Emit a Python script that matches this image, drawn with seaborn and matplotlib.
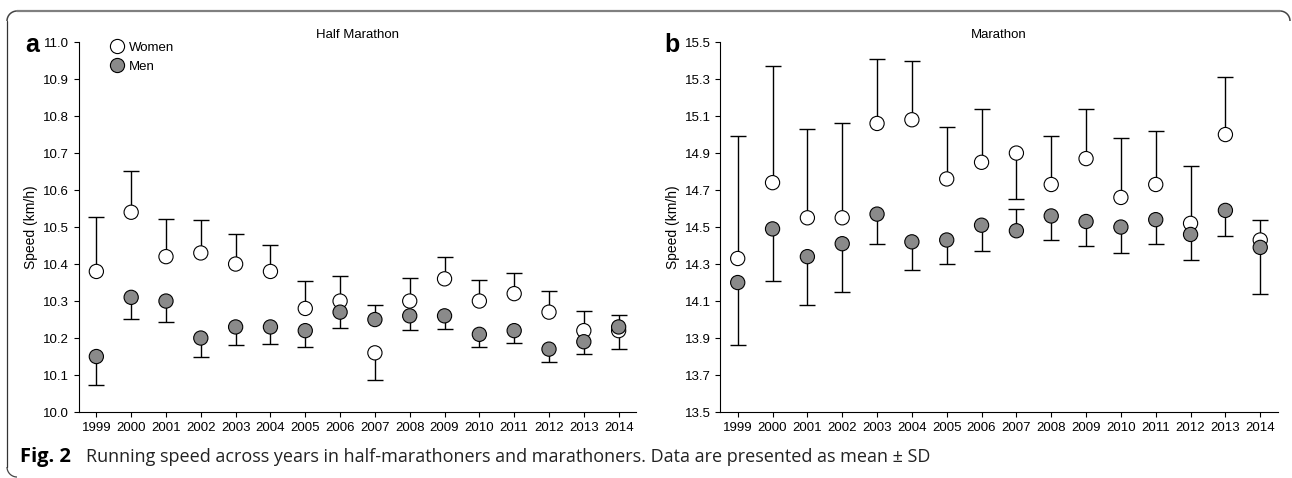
import numpy as np
import pandas as pd
import matplotlib.pyplot as plt
import seaborn as sns
from matplotlib.lines import Line2D
from matplotlib.patches import Arc
from matplotlib.transforms import IdentityTransform

years = list(range(1999, 2015))

# half marathon (km/h): mean, SD, direction of the SD whisker (1 = up, -1 = down)
women_half = [10.38, 10.54, 10.42, 10.43, 10.40, 10.38, 10.28, 10.30,
              10.16, 10.30, 10.36, 10.30, 10.32, 10.27, 10.22, 10.22]
women_half_sd = [0.146, 0.111, 0.102, 0.089, 0.082, 0.072, 0.074, 0.069,
                 0.074, 0.061, 0.058, 0.058, 0.055, 0.056, 0.052, 0.050]
women_half_dir = [1, 1, 1, 1, 1, 1, 1, 1, -1, 1, 1, 1, 1, 1, 1, -1]
men_half = [10.15, 10.31, 10.30, 10.20, 10.23, 10.23, 10.22, 10.27,
            10.25, 10.26, 10.26, 10.21, 10.22, 10.17, 10.19, 10.23]
men_half_sd = [0.077, 0.059, 0.057, 0.052, 0.049, 0.047, 0.045, 0.044,
               0.040, 0.039, 0.036, 0.035, 0.034, 0.035, 0.034, 0.033]
men_half_dir = [-1, -1, -1, -1, -1, -1, -1, -1, 1, -1, -1, -1, -1, -1, -1, 1]

# marathon (km/h)
women_full = [14.33, 14.74, 14.55, 14.55, 15.06, 15.08, 14.76, 14.85,
              14.90, 14.73, 14.87, 14.66, 14.73, 14.52, 15.00, 14.43]
women_full_sd = [0.66, 0.63, 0.48, 0.51, 0.35, 0.32, 0.28, 0.29,
                 0.25, 0.26, 0.27, 0.32, 0.29, 0.31, 0.31, 0.11]
women_full_dir = [1, 1, 1, 1, 1, 1, 1, 1, -1, 1, 1, 1, 1, 1, 1, 1]
men_full = [14.20, 14.49, 14.34, 14.41, 14.57, 14.42, 14.43, 14.51,
            14.48, 14.56, 14.53, 14.50, 14.54, 14.46, 14.59, 14.39]
men_full_sd = [0.34, 0.28, 0.26, 0.26, 0.16, 0.15, 0.13, 0.14,
               0.12, 0.13, 0.13, 0.14, 0.13, 0.14, 0.14, 0.25]
men_full_dir = [-1, -1, -1, -1, -1, -1, -1, -1, 1, -1, -1, -1, -1, -1, -1, -1]

sexes = ["Women", "Men"]
fills = {"Women": "white", "Men": "#8a8a8a"}

sns.set_style("ticks")
plt.rcParams["font.family"] = ["Liberation Sans", "DejaVu Sans"]
plt.rcParams.update({"text.color": "black", "axes.labelcolor": "black",
                     "xtick.color": "black", "ytick.color": "black",
                     "axes.edgecolor": "black"})


def whiskers(ax, mean, sd, direction):
    # one-sided SD whisker with a cap only at its far end
    mean = np.array(mean)
    end = mean + np.array(direction) * np.array(sd)
    ax.vlines(years, mean, end, color="black", lw=1, zorder=1)
    ax.plot(years, end, ls="none", marker="_", markersize=12,
            markeredgewidth=1, color="black", zorder=1)


def panel(ax, w, w_sd, w_dir, m, m_sd, m_dir, title, ylim, yticks):
    whiskers(ax, w, w_sd, w_dir)
    whiskers(ax, m, m_sd, m_dir)
    df = pd.DataFrame({
        "year": years * 2,
        "speed": w + m,
        "sex": ["Women"] * len(years) + ["Men"] * len(years),
    })
    sns.scatterplot(data=df, x="year", y="speed", hue="sex", hue_order=sexes,
                    palette=fills, s=105, edgecolor="black", linewidth=0.8,
                    legend=False, ax=ax, zorder=3)
    ax.set_xlim(1998.5, 2014.5)
    ax.set_ylim(*ylim)
    ax.set_xticks(years)
    ax.set_yticks(yticks)
    ax.set_yticklabels([f"{t:.1f}" for t in yticks])
    ax.tick_params(labelsize=9.5, length=3.5, width=0.8, direction="out")
    ax.set_xlabel("")
    ax.set_ylabel("Speed (km/h)", fontsize=10, labelpad=3.5)
    ax.set_title(title, fontsize=9.5, pad=3)
    for s in ["left", "bottom"]:
        ax.spines[s].set_linewidth(0.8)
    sns.despine(ax=ax)


fig = plt.figure(figsize=(12.92, 4.78), dpi=100)
ax1 = fig.add_axes([0.0611, 0.138, 0.4312, 0.774])
ax2 = fig.add_axes([0.5575, 0.138, 0.4314, 0.774])

panel(ax1, women_half, women_half_sd, women_half_dir,
      men_half, men_half_sd, men_half_dir, "Half Marathon",
      (10.0, 11.0), np.round(np.arange(10.0, 11.01, 0.1), 1))
panel(ax2, women_full, women_full_sd, women_full_dir,
      men_full, men_full_sd, men_full_dir, "Marathon",
      (13.5, 15.5), np.round(np.arange(13.5, 15.51, 0.2), 1))

handles = [Line2D([], [], marker="o", ls="none", markersize=10.2,
                  markerfacecolor=fills[s], markeredgecolor="black",
                  markeredgewidth=0.8) for s in sexes]
ax1.legend(handles, sexes, loc="upper left", bbox_to_anchor=(0.045, 1.015),
           frameon=False, fontsize=9.5, handletextpad=0.3, labelspacing=0.5,
           handlelength=1.2, borderaxespad=0)

fig.text(25 / 1292, 1 - 45 / 478, "a", fontsize=18, weight="bold",
         va="center", ha="left")
fig.text(664 / 1292, 1 - 45 / 478, "b", fontsize=18, weight="bold",
         va="center", ha="left")

# caption
fig.text(20 / 1292, 1 - 462 / 478, "Fig. 2", fontsize=14.5, weight="bold",
         family=["Open Sans", "DejaVu Sans"], va="baseline")
fig.text(86 / 1292, 1 - 462 / 478,
         "Running speed across years in half-marathoners and marathoners. "
         "Data are presented as mean \u00b1 SD",
         fontsize=13, family=["Open Sans", "DejaVu Sans"], va="baseline",
         color="#222222")

# frame around the figure (pixel coordinates, origin bottom left)
H = 478
r = 10
frame = [
    Line2D([7 + r, 1290 - r], [H - 11, H - 11], color="#808080", lw=1.6),
    Line2D([7, 7], [H - 11 - r, 1 + r], color="#333333", lw=0.9),
]
for a in frame:
    a.set_transform(IdentityTransform())
    fig.add_artist(a)
arcs = [
    Arc((7 + r, H - 11 - r), 2 * r, 2 * r, theta1=90, theta2=180,
        color="#444444", lw=1.1),
    Arc((7 + r, 1 + r), 2 * r, 2 * r, theta1=180, theta2=270,
        color="#444444", lw=0.9),
    Arc((1290 - r, H - 11 - r), 2 * r, 2 * r, theta1=0, theta2=90,
        color="#444444", lw=1.1),
]
for a in arcs:
    a.set_transform(IdentityTransform())
    fig.add_artist(a)

fig.savefig("out.png", dpi=100)
